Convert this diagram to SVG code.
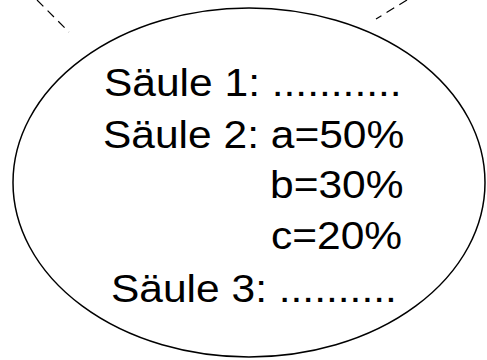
<svg xmlns="http://www.w3.org/2000/svg" width="487" height="360" viewBox="0 0 487 360">
  <style>
    .outline { fill: #ffffff; stroke: #000000; stroke-width: 1.5; }
    .dash { fill: none; stroke: #000000; stroke-width: 1.2; stroke-dasharray: 9 6; }
    .label { font-family: "Liberation Sans", Arial, sans-serif; font-size: 39px; fill: #000000; }
  </style>
  <rect width="487" height="360" fill="#ffffff"/>
  <!-- dashed leader lines running out of the frame -->
  <g id="connectors">
    <line class="dash" x1="37" y1="0" x2="69" y2="32"/>
    <line class="dash" x1="407" y1="0" x2="376" y2="19"/>
  </g>
  <!-- oval callout with the column notes -->
  <g id="note">
    <ellipse class="outline" cx="249" cy="182.5" rx="236" ry="174.5"/>
    <g class="label">
      <text transform="translate(104,95.5) scale(1.09,1)">Säule 1: ...........</text>
      <text transform="translate(103,148) scale(1.09,1)">Säule 2: a=50%</text>
      <text transform="translate(270,198) scale(1.09,1)">b=30%</text>
      <text transform="translate(271,249) scale(1.09,1)">c=20%</text>
      <text transform="translate(111,301.5) scale(1.09,1)">Säule 3: ..........</text>
    </g>
  </g>
</svg>
